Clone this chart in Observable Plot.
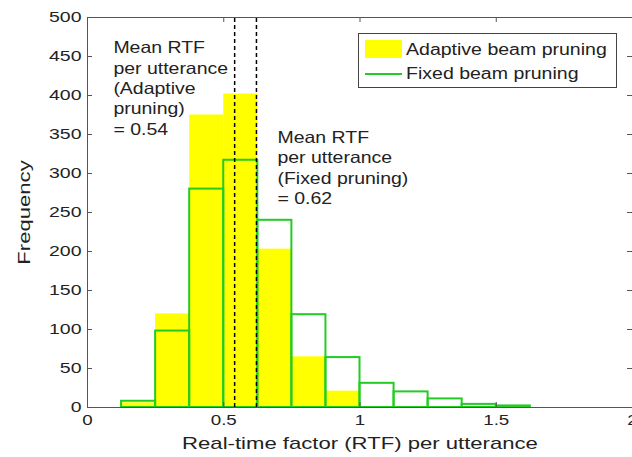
<!DOCTYPE html>
<html><head><meta charset="utf-8">
<script src="https://cdn.jsdelivr.net/npm/d3@7"></script>
<script src="https://cdn.jsdelivr.net/npm/@observablehq/plot@0.6"></script>
<style>
body{margin:0;background:#fff;}
#wrap{position:relative;width:632px;height:457px;font-family:"Liberation Sans",Arial,sans-serif;color:#222;}
.legend{position:absolute;left:358px;top:33px;width:257px;height:53px;border:1px solid #444;background:#fff;}
.sw{position:absolute;left:6px;top:6px;width:37px;height:18px;background:#ffff00;}
.ln{position:absolute;left:6px;top:39px;width:37px;height:0;border-top:2px solid #22cc22;}
.lt{position:absolute;left:47px;font-size:16px;white-space:nowrap;line-height:1;display:inline-block;transform:scaleX(1.22);transform-origin:left center;}
</style></head>
<body><div id="wrap"></div>
<script>
const binStart = [0,0.125,0.25,0.375,0.5,0.625,0.75,0.875,1,1.125,1.25,1.375,1.5,1.625,1.75,1.875];
const binWidth = 0.125;
const adaptive = [0,6,120,375,402,203,65,21,0,0,0,0,0,0,0,0];
const fixed    = [0,8,98,280,317,240,119,64,31,20,11,4,2,0,0,0];
const means = [0.54, 0.62];
const xTicks = [0,0.5,1,1.5,2];
const yTicks = [0,50,100,150,200,250,300,350,400,450,500];
const notes = [
  {x:0.095, y:473, text:"Mean RTF\nper utterance\n(Adaptive\npruning)\n= 0.54"},
  {x:0.697, y:358, text:"Mean RTF\nper utterance\n(Fixed pruning)\n= 0.62"}
];
const series = ["Adaptive beam pruning","Fixed beam pruning"];

const A = binStart.map((s,i)=>({x1:s, x2:s+binWidth, y:adaptive[i]}));
const F = binStart.map((s,i)=>({x1:s, x2:s+binWidth, y:fixed[i]}));

const W=632, H=457, ML=87, MR=0, MT=17, MB=50;
const fw = W-ML-MR, fh = H-MT-MB;
const chart = Plot.plot({
  width:W, height:H, marginLeft:ML, marginRight:MR, marginTop:MT, marginBottom:MB,
  style:{fontFamily:'"Liberation Sans",Arial,sans-serif', fontSize:"16px", color:"#222", background:"#fff"},
  x:{domain:[0,2], axis:null},
  y:{domain:[0,500], axis:null},
  marks:[
    Plot.rect(A, {x1:"x1", x2:"x2", y1:0, y2:"y", fill:"#ffff00", inset:0}),
    Plot.rect(F, {x1:"x1", x2:"x2", y1:0, y2:"y", fill:"none", stroke:"#22cc22", strokeWidth:2, inset:0}),
    Plot.ruleX(means, {x:d=>d, y1:0, y2:500, stroke:"#000", strokeWidth:1.5, strokeDasharray:"4,3"}),
    Plot.frame({stroke:"#555", strokeWidth:1}),
    Plot.tickX(xTicks, {x:d=>d, insetTop:fh-5, stroke:"#555"}),
    Plot.tickX(xTicks, {x:d=>d, insetBottom:fh-5, stroke:"#555"}),
    Plot.tickY(yTicks, {y:d=>d, insetRight:fw-5, stroke:"#555"}),
    Plot.tickY(yTicks, {y:d=>d, insetLeft:fw-5, stroke:"#555"}),
    Plot.axisX({ticks:xTicks, tickSize:0, tickPadding:7, tickFormat:d=>String(d), fontSize:15,
      label:"Real-time factor (RTF) per utterance", labelAnchor:"center", labelOffset:41, labelArrow:"none"}),
    Plot.axisY({ticks:yTicks, tickSize:0, tickPadding:6, fontSize:15,
      label:"Frequency", labelAnchor:"center", labelOffset:70, labelArrow:"none"}),
    Plot.text(notes, {x:"x", y:"y", text:"text", textAnchor:"start", lineAnchor:"top", lineHeight:1.24, fontSize:16.5, fill:"#222"})
  ]
});
const wrap = document.getElementById("wrap");
wrap.appendChild(chart);
const lg = document.createElement("div");
lg.className="legend";
lg.innerHTML = `<div class="sw"></div><span class="lt" style="top:8px">${series[0]}</span><div class="ln"></div><span class="lt" style="top:32px">${series[1]}</span>`;
wrap.appendChild(lg);

// widen glyphs horizontally to match the reference's wide lettering
function stretch(sel, k, size){
  chart.querySelectorAll(sel).forEach(t=>{
    if (size) t.setAttribute("font-size", size);
    const spans = t.querySelectorAll("tspan");
    const els = spans.length ? spans : [t];
    els.forEach(e=>{
      const L = e.getComputedTextLength();
      if (L>0){ e.setAttribute("textLength", (L*k).toFixed(1)); e.setAttribute("lengthAdjust","spacingAndGlyphs"); }
    });
  });
}
stretch('g[aria-label="x-axis tick label"] text', 1.25);
stretch('g[aria-label="y-axis tick label"] text', 1.3);
stretch('g[aria-label="x-axis label"] text', 1.3, 17);
stretch('g[aria-label="y-axis label"] text', 1.3, 17);
stretch('g[aria-label="text"] text', 1.18);
</script></body></html>
